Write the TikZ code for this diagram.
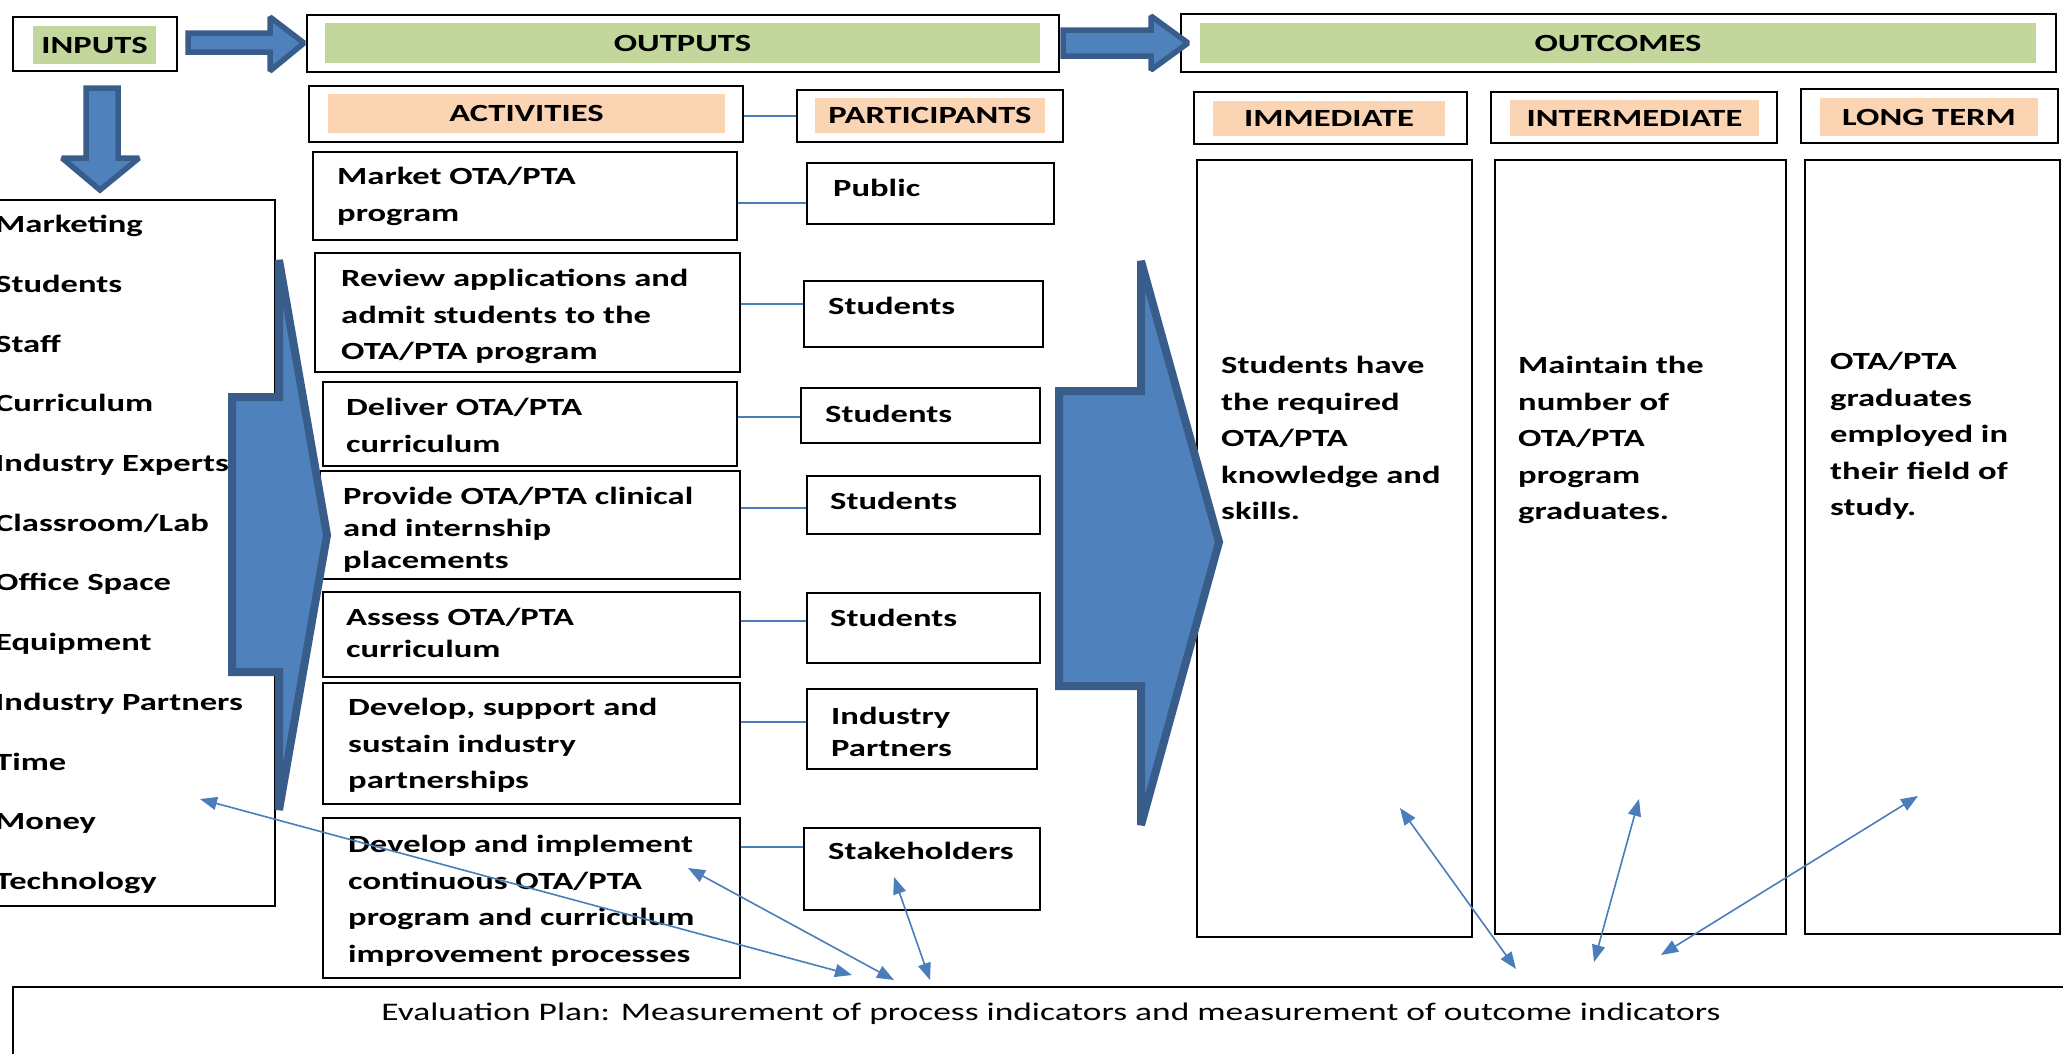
\documentclass[tikz,border=0pt]{standalone}
\usepackage{fontspec}
\setmainfont{Carlito}[FakeStretch=1.4]
\usetikzlibrary{arrows.meta}
\definecolor{hgreen}{RGB}{195,214,155}
\definecolor{horange}{RGB}{251,212,180}
\definecolor{afill}{RGB}{79,129,189}
\definecolor{aedge}{RGB}{56,93,138}
\definecolor{lblue}{RGB}{74,126,187}
\newcommand\hfont{\bfseries\fontsize{24.7}{30}\selectfont}
\newcommand\st{\rule{0pt}{22pt}}
\tikzset{
  box/.style={draw=black, line width=2.5pt, inner sep=0pt, fill=white},
  gfill/.style={fill=hgreen, inner sep=0pt, font=\hfont},
  ofill/.style={fill=horange, inner sep=0pt, font=\hfont},
  txt/.style={anchor=north west, inner sep=0pt, align=left, font=\bfseries\fontsize{24.7}{36.5}\selectfont},
  txtb/.style={anchor=north west, inner sep=0pt, align=left, font=\bfseries\fontsize{24.7}{32}\selectfont},
  txtl/.style={anchor=north west, inner sep=0pt, align=left, font=\bfseries\fontsize{24.7}{59.7}\selectfont},
  conn/.style={draw=lblue, line width=2pt},
  dbl/.style={draw=lblue, line width=1.6pt, {Triangle[length=17pt,width=13pt]}-{Triangle[length=17pt,width=13pt]}},
  bigarrow/.style={fill=afill, draw=aedge, line width=8pt, miter limit=1.5},
  smarrow/.style={fill=afill, draw=aedge, line width=5.5pt, miter limit=1.5},
}
\newcommand\bx[5]{\node[box, minimum width={#4pt-#2pt}, minimum height={#5pt-#3pt}] (#1) at ({(#2+#4)/2},{(#3+#5)/2}) {};}
\newcommand\fl[7]{\node[#2, minimum width={#5pt-#3pt}, minimum height={#6pt-#4pt}] (#1) at ({(#3+#5)/2},{(#4+#6)/2}) {#7};}
\begin{document}
\begin{tikzpicture}[x=1pt,y=-1pt]
\fill[white] (0,0) rectangle (2063,1053);
\useasboundingbox (0,0) rectangle (2063,1053);

% header row
\bx{inb}{13}{17}{177}{71}
\fl{inf}{gfill}{33}{26}{156}{64}{INPUTS}
\bx{outb}{307}{15}{1059}{72}
\fl{outf}{gfill}{325}{23}{1040}{63}{OUTPUTS}
\bx{ocb}{1181}{14}{2056}{72}
\fl{ocf}{gfill}{1200}{23}{2036}{63}{OUTCOMES}

% second row
\bx{actb}{309}{86}{743}{142}
\fl{actf}{ofill}{328}{94}{725}{133}{ACTIVITIES}
\bx{parb}{797}{90}{1063}{142}
\fl{parf}{ofill}{815}{98}{1045}{133}{PARTICIPANTS}
\bx{immb}{1194}{92}{1467}{144}
\fl{immf}{ofill}{1213}{101}{1445}{136}{IMMEDIATE}
\bx{intb}{1491}{92}{1777}{143}
\fl{intf}{ofill}{1510}{100}{1759}{136}{INTERMEDIATE}
\bx{ltb}{1801}{89}{2058}{143}
\fl{ltf}{ofill}{1820}{98}{2038}{136}{LONG TERM}

% inputs list
\bx{inlist}{-20}{200}{275}{906}
\node[txtl] (inlisttxt) at (-5,210.5) {\st Marketing\\\st Students\\\st Staff\\\st Curriculum\\\st Industry Experts\\\st Classroom/Lab\\\st Office Space\\\st Equipment\\\st Industry Partners\\\st Time\\\st Money\\\st Technology};

% activities
\bx{a1}{313}{152}{737}{240}
\node[txt] (a1t) at (337,162.5) {\st Market OTA/PTA\\\st program};
\bx{a2}{315}{253}{740}{372}
\node[txt] (a2t) at (341,264.5) {\st Review applications and\\\st admit students to the\\\st OTA/PTA program};
\bx{a3}{323}{382}{737}{466}
\node[txt] (a3t) at (346,393.5) {\st Deliver OTA/PTA\\\st curriculum};
\bx{a4}{320}{471}{740}{579}
\node[txtb] (a4t) at (343,482.5) {\st Provide OTA/PTA clinical\\\st and internship\\\st placements};
\bx{a5}{323}{592}{740}{677}
\node[txtb] (a5t) at (346,603.5) {\st Assess OTA/PTA\\\st curriculum};
\bx{a6}{323}{683}{740}{804}
\node[txt] (a6t) at (348,693.5) {\st Develop, support and\\\st sustain industry\\\st partnerships};
\bx{a7}{323}{818}{740}{978}
\node[txt] (a7t) at (348,830.5) {\st Develop and implement\\\st continuous OTA/PTA\\\st program and curriculum\\\st improvement processes};

% participants
\bx{p1}{807}{163}{1054}{224}
\node[txt] (p1t) at (833,174.5) {\st Public};
\bx{p2}{804}{281}{1043}{347}
\node[txt] (p2t) at (828,292.5) {\st Students};
\bx{p3}{801}{388}{1040}{443}
\node[txt] (p3t) at (825,400.5) {\st Students};
\bx{p4}{807}{476}{1040}{534}
\node[txt] (p4t) at (830,487.5) {\st Students};
\bx{p5}{807}{593}{1040}{663}
\node[txt] (p5t) at (830,604.5) {\st Students};
\bx{p6}{807}{689}{1037}{769}
\node[txtb] (p6t) at (831,702.5) {\st Industry\\\st Partners};
\bx{p7}{804}{828}{1040}{910}
\node[txt] (p7t) at (828,837.5) {\st Stakeholders};

% outcome columns
\bx{o1}{1197}{160}{1472}{937}
\node[txt] (o1t) at (1221,351.5) {\st Students have\\\st the required\\\st OTA/PTA\\\st knowledge and\\\st skills.};
\bx{o2}{1495}{160}{1786}{934}
\node[txt] (o2t) at (1518,351.5) {\st Maintain the\\\st number of\\\st OTA/PTA\\\st program\\\st graduates.};
\bx{o3}{1805}{160}{2060}{934}
\node[txt] (o3t) at (1830,347.5) {\st OTA/PTA\\\st graduates\\\st employed in\\\st their field of\\\st study.};

% evaluation plan
\bx{ev}{13}{987}{2080}{1070}
\node[inner sep=0pt, font=\fontsize{25.3}{30}\selectfont] (evt) at (1051,1014) {Evaluation Plan: Measurement of process indicators and measurement of outcome indicators};

% block arrows
\draw[smarrow] (188,33) -- (270,33) -- (270,17) -- (304,43) -- (270,71) -- (270,52) -- (188,52) -- cycle;
\draw[smarrow] (1063,30) -- (1151,30) -- (1151,16) -- (1188,43) -- (1151,70) -- (1151,56) -- (1063,56) -- cycle;
\draw[smarrow] (86,88) -- (118,88) -- (118,158) -- (139,158) -- (100,190) -- (62,158) -- (86,158) -- cycle;
\draw[bigarrow] (232,397) -- (279,397) -- (279,260) -- (327,535) -- (279,810) -- (279,672) -- (232,672) -- cycle;
\draw[bigarrow] (1059,391) -- (1141,391) -- (1141,261) -- (1219,542) -- (1141,825) -- (1141,686) -- (1059,686) -- cycle;

% connectors
\draw[conn] (actb.east |- 0,116) -- (parb.west |- 0,116);
\draw[conn] (a1.east |- 0,203) -- (p1.west |- 0,203);
\draw[conn] (a2.east |- 0,304) -- (p2.west |- 0,304);
\draw[conn] (a3.east |- 0,417) -- (p3.west |- 0,417);
\draw[conn] (a4.east |- 0,508) -- (p4.west |- 0,508);
\draw[conn] (a5.east |- 0,621) -- (p5.west |- 0,621);
\draw[conn] (a6.east |- 0,722) -- (p6.west |- 0,722);
\draw[conn] (a7.east |- 0,847) -- (p7.west |- 0,847);

% evaluation feedback arrows
\coordinate (ea1) at (200,799);  \coordinate (eb1) at (852,975);
\coordinate (ea2) at (688,868);  \coordinate (eb2) at (894,980);
\coordinate (ea3) at (894,877);  \coordinate (eb3) at (930,980);
\coordinate (ea4) at (1400,808); \coordinate (eb4) at (1516,969);
\coordinate (ea5) at (1639,799); \coordinate (eb5) at (1594,962);
\coordinate (ea6) at (1918,796); \coordinate (eb6) at (1661,955);
\draw[dbl] (ea1) -- (eb1);
\draw[dbl] (ea2) -- (eb2);
\draw[dbl] (ea3) -- (eb3);
\draw[dbl] (ea4) -- (eb4);
\draw[dbl] (ea5) -- (eb5);
\draw[dbl] (ea6) -- (eb6);
\end{tikzpicture}
\end{document}
